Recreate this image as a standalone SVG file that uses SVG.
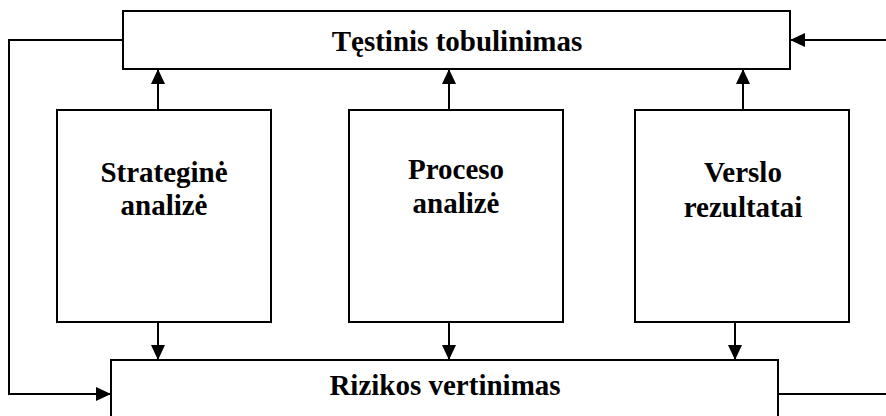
<svg xmlns="http://www.w3.org/2000/svg" width="886" height="416" viewBox="0 0 886 416">
<style>
.box{fill:#fff;stroke:#000;stroke-width:2}
.ln{fill:none;stroke:#000;stroke-width:2}
.t{font-family:"Liberation Serif","Times New Roman",serif;font-weight:bold;font-size:29px;fill:#000;text-anchor:middle}
</style>
<defs>
<marker id="ah" viewBox="0 0 15 14" refX="15" refY="7" markerWidth="15" markerHeight="14" markerUnits="userSpaceOnUse" orient="auto">
<path d="M0,0 L15,7 L0,14 Z" fill="#000"/>
</marker>
</defs>
<g id="connectors">
<polyline class="ln" points="123,40 9,40 9,394 111,394" marker-end="url(#ah)"/>
<line class="ln" x1="886" y1="40" x2="790" y2="40" marker-end="url(#ah)"/>
<line class="ln" x1="778" y1="394" x2="886" y2="394"/>
<line class="ln" x1="158" y1="110" x2="158" y2="69" marker-end="url(#ah)"/>
<line class="ln" x1="449" y1="110" x2="449" y2="69" marker-end="url(#ah)"/>
<line class="ln" x1="743" y1="110" x2="743" y2="69" marker-end="url(#ah)"/>
<line class="ln" x1="158" y1="322" x2="158" y2="360" marker-end="url(#ah)"/>
<line class="ln" x1="449" y1="322" x2="449" y2="360" marker-end="url(#ah)"/>
<line class="ln" x1="735" y1="322" x2="735" y2="360" marker-end="url(#ah)"/>
</g>
<g id="testinis">
<rect class="box" x="123" y="11" width="667" height="58"/>
<text class="t" x="457" y="51">Tęstinis tobulinimas</text>
</g>
<g id="strategine">
<rect class="box" x="57" y="110" width="214" height="212"/>
<text class="t" x="164" y="182">Strateginė</text>
<text class="t" x="164" y="215">analizė</text>
</g>
<g id="proceso">
<rect class="box" x="349" y="110" width="214" height="212"/>
<text class="t" x="456" y="179">Proceso</text>
<text class="t" x="456" y="213">analizė</text>
</g>
<g id="verslo">
<rect class="box" x="635" y="110" width="214" height="212"/>
<text class="t" x="743" y="182">Verslo</text>
<text class="t" x="743" y="217">rezultatai</text>
</g>
<g id="rizikos">
<rect class="box" x="111" y="360" width="667" height="80"/>
<text class="t" x="445" y="395">Rizikos vertinimas</text>
</g>
</svg>
